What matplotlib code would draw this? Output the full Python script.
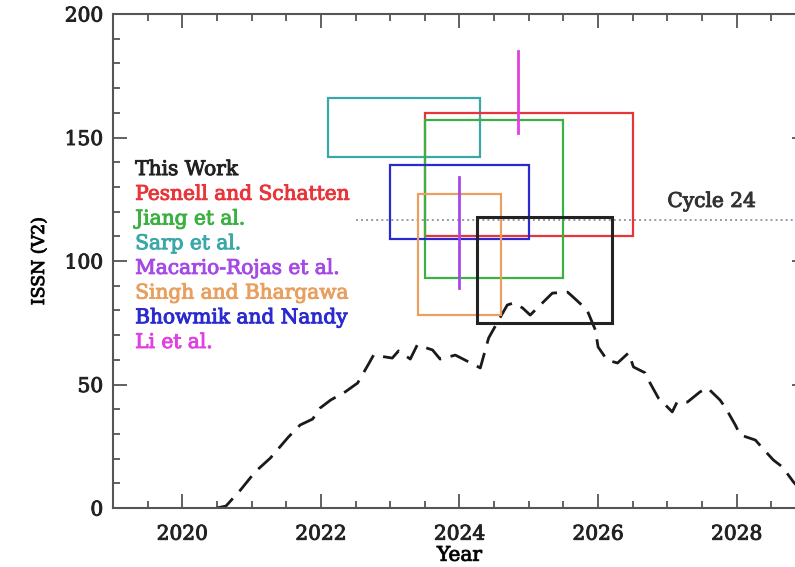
import matplotlib
matplotlib.use('Agg')
import matplotlib.pyplot as plt
import matplotlib.patheffects as pe
from matplotlib.patches import Rectangle
from matplotlib.ticker import MultipleLocator

plt.rcParams['font.family'] = 'DejaVu Serif'

# predicted cycle 25 (dashed curve)
curve_year = [2020.50, 2020.63, 2020.84, 2021.05, 2021.27, 2021.53, 2021.70, 2021.88, 2021.99,
              2022.14, 2022.35, 2022.53, 2022.68, 2022.76, 2023.03, 2023.12, 2023.29, 2023.39,
              2023.61, 2023.72, 2023.94, 2024.08, 2024.30, 2024.42, 2024.59, 2024.69, 2024.78,
              2024.91, 2025.02, 2025.21, 2025.34, 2025.56, 2025.64, 2025.84, 2025.96, 2026.00,
              2026.13, 2026.28, 2026.44, 2026.51, 2026.68, 2026.75, 2026.87, 2027.00, 2027.07,
              2027.14, 2027.29, 2027.47, 2027.58, 2027.76, 2027.84, 2027.98, 2028.05, 2028.27,
              2028.37, 2028.53, 2028.66, 2028.82, 2029.00]
curve_ssn = [0.0, 0.8, 7.3, 14.6, 20.2, 28.7, 33.6, 36.0, 40.5,
             43.7, 47.0, 50.6, 57.9, 61.9, 60.7, 63.6, 60.3, 66.0,
             64.0, 60.3, 61.9, 59.9, 56.7, 68.8, 77.3, 82.2, 83.0,
             81.0, 78.1, 83.4, 87.0, 87.4, 85.4, 80.2, 72.1, 65.2,
             59.9, 58.7, 62.8, 57.1, 54.7, 50.6, 44.5, 40.9, 38.9,
             42.9, 42.9, 47.0, 48.6, 43.7, 40.5, 33.6, 29.6, 27.5,
             24.3, 19.4, 16.6, 10.5, 5.0]

# predictions given as boxes (time range x amplitude range)
box_names = ['Sarp et al.', 'Pesnell and Schatten', 'Jiang et al.', 'Bhowmik and Nandy',
             'Singh and Bhargawa', 'This Work']
box_t0 = [2022.1, 2023.5, 2023.5, 2023.0, 2023.4, 2024.25]
box_t1 = [2024.3, 2026.5, 2025.5, 2025.0, 2024.6, 2026.2]
box_lo = [142, 110, 93, 109, 78, 75]
box_hi = [166, 160, 157, 139, 127, 118]

# predictions given as vertical bars (amplitude range at one time)
bar_names = ['Macario-Rojas et al.', 'Li et al.']
bar_t = [2024.0, 2024.85]
bar_lo = [89, 152]
bar_hi = [134, 185]

cycle24_max = 116.4

legend_names = ['This Work', 'Pesnell and Schatten', 'Jiang et al.', 'Sarp et al.',
                'Macario-Rojas et al.', 'Singh and Bhargawa', 'Bhowmik and Nandy', 'Li et al.']
colors = {'This Work': '#222222', 'Pesnell and Schatten': '#e8353a', 'Jiang et al.': '#3cb043',
          'Sarp et al.': '#3aa8a8', 'Macario-Rojas et al.': '#a64ae6',
          'Singh and Bhargawa': '#e8a060', 'Bhowmik and Nandy': '#2a2ad0', 'Li et al.': '#e040e0'}


def thick(c):
    # slightly heavier than regular weight, like the original plot font
    return [pe.withStroke(linewidth=0.7, foreground=c)]


fig = plt.figure(figsize=(7.95, 5.67), dpi=100)
ax = fig.add_axes([113/795, 59/567, 693/795, 494/567])

ax.plot(curve_year, curve_ssn, color='#1a1a1a', lw=2.0, linestyle=(0, (7, 3.5)), zorder=2)

ax.plot([2022.5, 2029.0], [cycle24_max, cycle24_max], color='#9a98a8', lw=1.4,
        linestyle=(0, (1, 1.6)), zorder=1)
ax.text(2027.0, cycle24_max + 5.5, 'Cycle 24', fontsize=14.5, color='#333333', va='baseline',
        path_effects=thick('#333333'))

for name, t0, t1, lo, hi in zip(box_names, box_t0, box_t1, box_lo, box_hi):
    lw = 2.2 if name == 'This Work' else 1.6
    ax.add_patch(Rectangle((t0, lo), t1 - t0, hi - lo, fill=False, edgecolor=colors[name],
                           lw=lw, zorder=3))

for name, t, lo, hi in zip(bar_names, bar_t, bar_lo, bar_hi):
    ax.plot([t, t], [lo, hi], color=colors[name], lw=2.0, zorder=4)

for k, name in enumerate(legend_names):
    ax.text(2019.32, 134.8 - 10*k, name, fontsize=14.5, color=colors[name], va='baseline',
            path_effects=thick(colors[name]))

ax.set_xlim(2019, 2029)
ax.set_ylim(0, 200)
ax.xaxis.set_major_locator(MultipleLocator(2))
ax.xaxis.set_minor_locator(MultipleLocator(0.5))
ax.yaxis.set_major_locator(MultipleLocator(50))
ax.yaxis.set_minor_locator(MultipleLocator(10))
ax.tick_params(which='both', direction='in', top=True, right=True, colors='#555555',
               labelcolor='#222222', width=1.3)
ax.tick_params(which='major', length=10)
ax.tick_params(which='minor', length=5)
ax.tick_params(axis='x', labelsize=14.5, pad=12)
ax.tick_params(axis='y', labelsize=14.5, pad=7)
for s in ax.spines.values():
    s.set_color('#555555')
    s.set_linewidth(1.5)
for lab in ax.get_xticklabels() + ax.get_yticklabels():
    lab.set_path_effects(thick('#222222'))

ax.set_xlabel('Year', fontsize=14.5, labelpad=1.5, path_effects=thick('#222222'))
ax.set_ylabel('ISSN (V2)', fontsize=12.5, labelpad=12, path_effects=thick('#222222'))

fig.savefig('out.png', dpi=100)
